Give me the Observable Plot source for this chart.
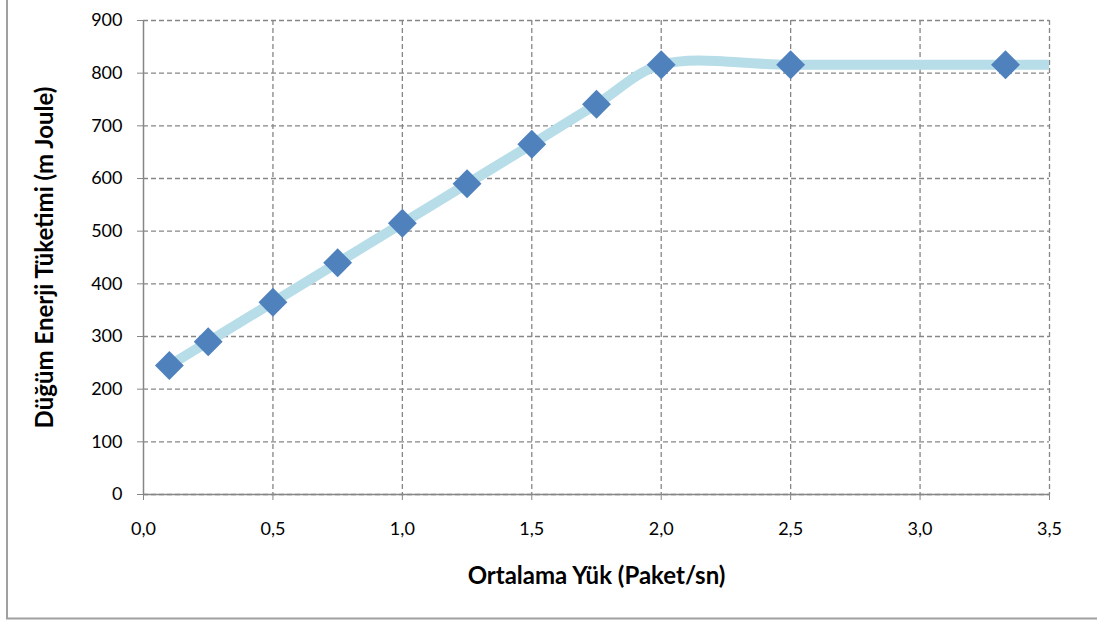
<!DOCTYPE html>
<html>
<head>
<meta charset="utf-8">
<script src="https://cdn.jsdelivr.net/npm/d3@7"></script>
<script src="https://cdn.jsdelivr.net/npm/@observablehq/plot@0.6"></script>
<style>
  html, body { margin: 0; padding: 0; background: #fff; }
  #chart { position: relative; width: 1097px; height: 621px; }
  #chart svg { font-family: Lato, "Open Sans", sans-serif; }
</style>
</head>
<body>
<div id="chart"></div>
<script>
// Data
const load = [0.1, 0.25, 0.5, 0.75, 1.0, 1.25, 1.5, 1.75, 2.0, 2.5, 3.33];
const energy = [245, 290, 365, 440, 515, 590, 665, 741, 816, 816, 816];
// the smoothed line continues past the right edge (clipped)
const lineLoad = [...load, 4.0];
const lineEnergy = [...energy, 816];
const xTicks = [0, 0.5, 1.0, 1.5, 2.0, 2.5, 3.0, 3.5];
const yTicks = [0, 100, 200, 300, 400, 500, 600, 700, 800, 900];
const xTitle = "Ortalama Yük (Paket/sn)";
const yTitle = "Düğüm Enerji Tüketimi (m Joule)";

const points = load.map((x, i) => ({x, y: energy[i]}));
const linePts = lineLoad.map((x, i) => ({x, y: lineEnergy[i]}));
const gray = "#868686";

const chart = Plot.plot({
  width: 1097,
  height: 621,
  marginLeft: 143,
  marginRight: 48,
  marginTop: 20,
  marginBottom: 127,
  style: {fontFamily: "Lato, 'Open Sans', sans-serif", fontSize: "18px", color: "#000"},
  x: {domain: [0, 3.5]},
  y: {domain: [0, 900]},
  marks: [
    Plot.gridY(yTicks, {stroke: gray, strokeOpacity: 1, strokeWidth: 1.3, strokeDasharray: "5,3"}),
    Plot.gridX(xTicks.slice(1), {stroke: gray, strokeOpacity: 1, strokeWidth: 1.3, strokeDasharray: "5,3"}),
    Plot.ruleX([0], {stroke: gray, strokeWidth: 1.5}),
    Plot.ruleY([0], {stroke: gray, strokeWidth: 1.5}),
    Plot.axisX({ticks: xTicks, tickSize: 6, tickPadding: 22, stroke: gray, fill: "#000", fontSize: 18,
      tickFormat: d => d3.format(".1f")(d).replace(".", ","), label: null}),
    Plot.axisY({ticks: yTicks, tickSize: 6, tickPadding: 15, stroke: gray, fill: "#000", fontSize: 18,
      tickFormat: d => String(d), label: null}),
    Plot.line(linePts, {x: "x", y: "y", curve: "catmull-rom", stroke: "#b7dde8", strokeWidth: 10,
      clip: true, strokeLinecap: "butt"}),
    Plot.dot(points, {x: "x", y: "y", symbol: "diamond2", r: 13, fill: "#4f81bd", stroke: "none"}),
    Plot.text([xTitle], {frameAnchor: "bottom", dy: 89, text: d => d, fontWeight: "bold", fontSize: 24, fill: "#000", textAnchor: "middle"}),
    Plot.text([yTitle], {frameAnchor: "left", dx: -98, rotate: -90, text: d => d, fontWeight: "bold", fontSize: 24, fill: "#000", textAnchor: "middle"})
  ]
});

// outer chart frame (left and bottom edges visible in the reference)
const svg = d3.select(chart);
svg.insert("line", ":first-child").attr("x1", 7).attr("x2", 7).attr("y1", 0).attr("y2", 619)
  .attr("stroke", "#a0a0a0").attr("stroke-width", 2);
svg.insert("line", ":first-child").attr("x1", 6).attr("x2", 1097).attr("y1", 618.5).attr("y2", 618.5)
  .attr("stroke", "#a0a0a0").attr("stroke-width", 2);

document.getElementById("chart").appendChild(chart);
</script>
</body>
</html>
